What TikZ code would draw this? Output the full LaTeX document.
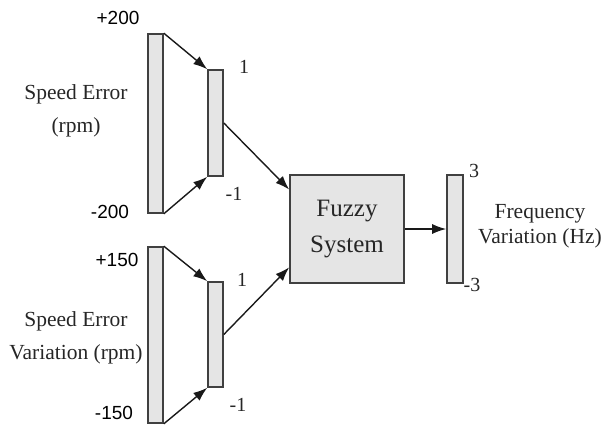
\documentclass[tikz,border=0pt]{standalone}
\usepackage{fontspec}
\setmainfont{Liberation Serif}
\newfontfamily\arialfont{Liberation Sans}
\usetikzlibrary{arrows.meta,calc}
\begin{document}
\begin{tikzpicture}[x=1pt,y=-1pt,
  bar/.style={draw=black!75,fill=black!10,line width=1.6pt,inner sep=0pt,minimum width=15pt},
  conn/.style={draw=black!90,line width=1.4pt,-{Latex[length=14pt,width=10pt]}},
  lab/.style={font=\fontsize{21.5}{33}\selectfont,align=center,text=black!85,inner sep=0pt},
  num/.style={font=\fontsize{20}{20}\selectfont,text=black!85,inner sep=0pt},
  snum/.style={font=\arialfont\fontsize{19}{19}\selectfont,text=black,inner sep=0pt}]
\useasboundingbox (0,0) rectangle (604,425);
% bars
\node[bar,minimum height=179pt] (big1) at (155.5,123.5) {};
\node[bar,minimum height=106pt] (small1) at (215.5,123) {};
\node[bar,minimum height=176pt] (big2) at (155.5,335) {};
\node[bar,minimum height=105pt] (small2) at (215.5,334.5) {};
\node[bar,minimum width=114pt,minimum height=108pt,font=\fontsize{25}{36}\selectfont,align=center,text=black!85] (fuzzy) at (347,229) {Fuzzy\\System};
\node[bar,minimum width=16pt,minimum height=108pt] (out) at (455,229) {};
\coordinate (in1) at ($(fuzzy.north west)!0.14!(fuzzy.south west)$);
\coordinate (in2) at ($(fuzzy.north west)!0.85!(fuzzy.south west)$);
% connectors
\draw[conn] (big1.north east) -- (small1.north west);
\draw[conn] (big1.south east) -- (small1.south west);
\draw[conn] (big2.north east) -- (small2.north west);
\draw[conn] (big2.south east) -- (small2.south west);
\draw[conn] (small1.east) -- (in1);
\draw[conn] (small2.east) -- (in2);
\draw[conn] (fuzzy.east) -- (out.west);
% labels
\node[lab] (l1) at (76,111) {Speed Error\\(rpm)};
\node[lab] (l2) at (76,338) {Speed Error\\Variation (rpm)};
\node[lab,font=\fontsize{21.5}{25}\selectfont] (l3) at (540,226.5) {Frequency\\Variation (Hz)};
\node[snum] (p200) at (118,18) {+200};
\node[snum] (m200) at (110,212) {-200};
\node[snum] (p150) at (117,260) {+150};
\node[snum] (m150) at (114,413) {-150};
\node[num] (a1) at (244,67) {1};
\node[num] (b1) at (234,194) {-1};
\node[num] (a2) at (242,280) {1};
\node[num] (b2) at (238,405) {-1};
\node[num] (a3) at (474,171) {3};
\node[num] (b3) at (472,285) {-3};
\end{tikzpicture}
\end{document}
